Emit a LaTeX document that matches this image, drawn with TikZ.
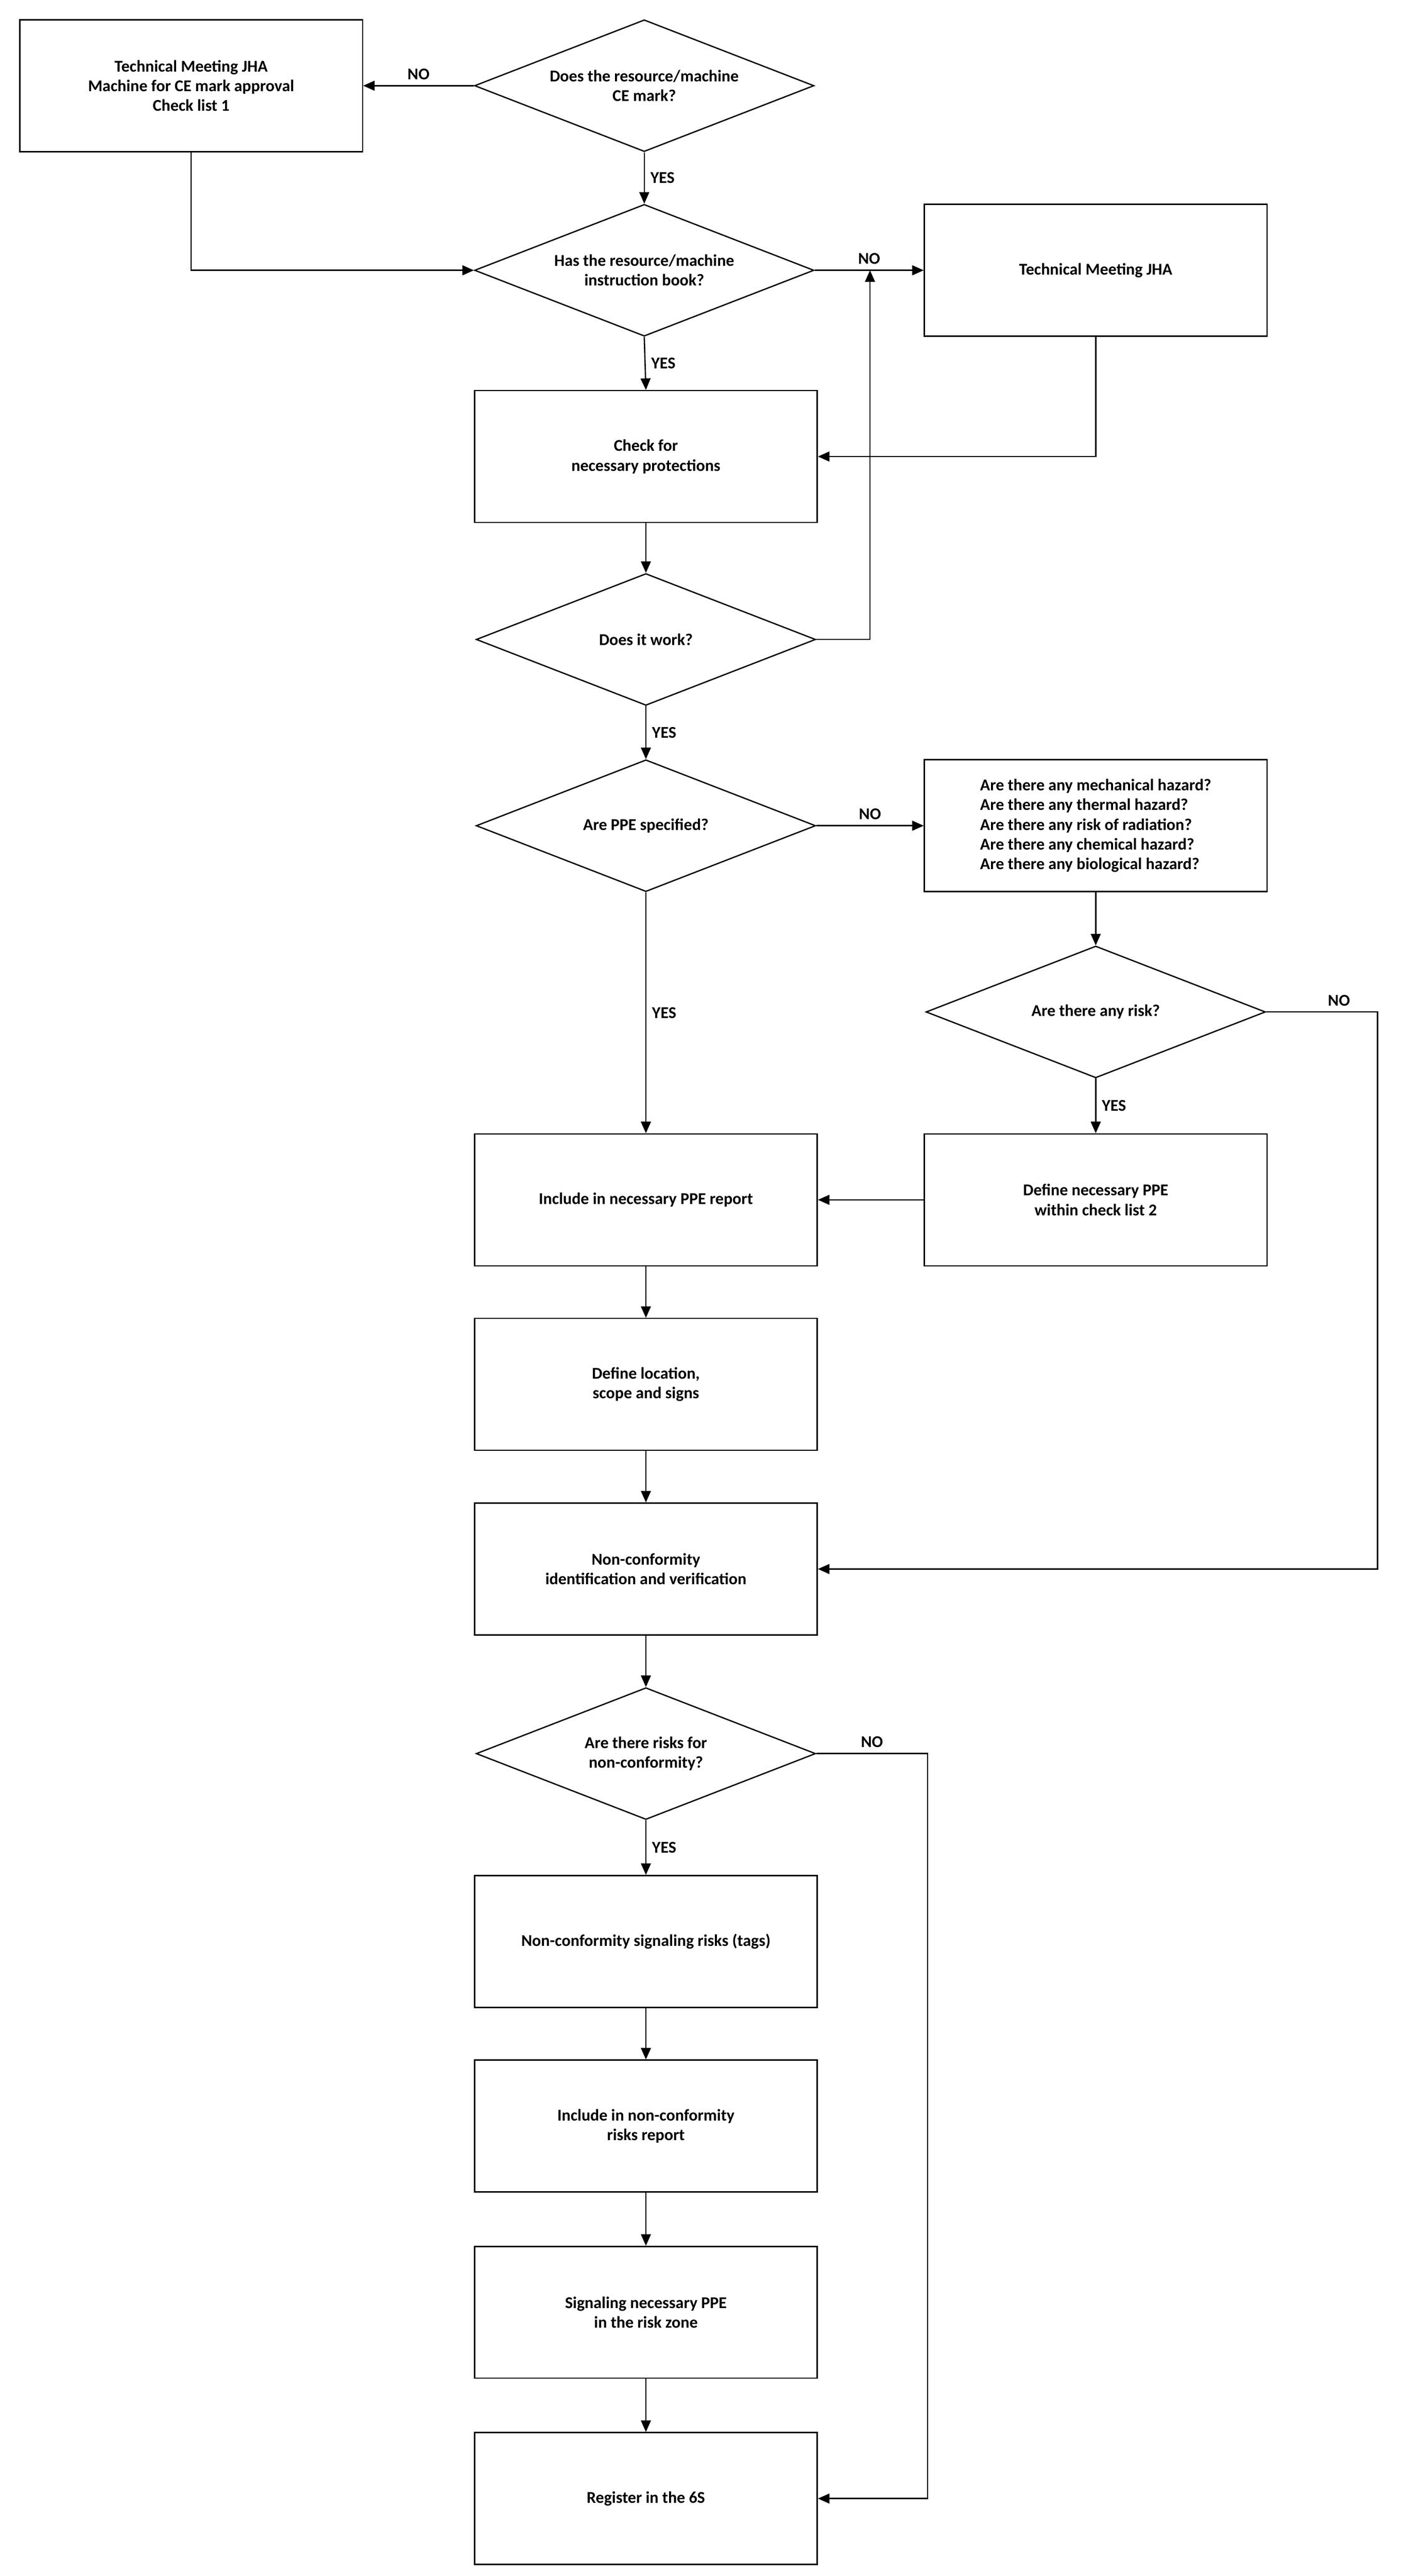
\documentclass[tikz,border=0pt]{standalone}
\usepackage{fontspec}
\setmainfont{Carlito}
\usetikzlibrary{shapes.geometric,arrows.meta}
\begin{document}
\begin{tikzpicture}[x=1pt,y=-1pt,
  font=\bfseries\fontsize{10}{12}\selectfont,
  box/.style={draw,line width=0.8pt,minimum width=208pt,minimum height=80pt,align=center,inner sep=1pt},
  dia/.style={draw,line width=0.8pt,diamond,aspect=2.6,minimum width=206pt,minimum height=80pt,align=center,inner sep=0pt},
  arr/.style={-{Triangle[length=7pt,width=6pt]},line width=0.8pt},
  lbl/.style={font=\bfseries\fontsize{10}{12}\selectfont}]
\useasboundingbox (0,0) rectangle (850,1563);
\node[box] (t1) at (116,52) {Technical Meeting JHA\\Machine for CE mark approval\\Check list 1};
\node[dia] (d1) at (391,52) {Does the resource/machine\\CE mark?};
\node[dia] (d2) at (391,164) {Has the resource/machine\\instruction book?};
\node[box] (tm) at (665,164) {Technical Meeting JHA};
\node[box] (ch) at (392,277) {Check for\\necessary protections};
\node[dia] (d3) at (392,388) {Does it work?};
\node[dia] (d4) at (392,501) {Are PPE specified?};
\node[box,align=left] (hz) at (665,501) {Are there any mechanical hazard?\\Are there any thermal hazard?\\Are there any risk of radiation?\\Are there any chemical hazard?\\Are there any biological hazard?};
\node[dia] (d5) at (665,614) {Are there any risk?};
\node[box] (dp) at (665,728) {Define necessary PPE\\within check list 2};
\node[box] (ip) at (392,728) {Include in necessary PPE report};
\node[box] (dl) at (392,840) {Define location,\\scope and signs};
\node[box] (nc) at (392,952) {Non-conformity\\identification and verification};
\node[dia] (d6) at (392,1064) {Are there risks for\\non-conformity?};
\node[box] (ns) at (392,1178) {Non-conformity signaling risks (tags)};
\node[box] (ir) at (392,1290) {Include in non-conformity\\risks report};
\node[box] (sp) at (392,1403) {Signaling necessary PPE\\in the risk zone};
\node[box] (rg) at (392,1516) {Register in the 6S};
\coordinate (m1) at (528,164);
\draw[arr] (d1.west) -- (t1.east) node[midway,above,lbl] {NO};
\draw[arr] (d1.south) -- (d2.north) node[midway,right,lbl] {YES};
\draw[arr] (t1.south) |- (d2.west);
\draw[arr] (d2.east) -- (tm.west) node[pos=0.5,above,lbl] {NO};
\draw[arr] (tm.south) |- (ch.east);
\draw[arr] (d2.south) -- (ch.north) node[midway,right,lbl] {YES};
\draw[arr] (ch.south) -- (d3.north);
\draw[arr] (d3.east) -| (m1);
\draw[arr] (d3.south) -- (d4.north) node[midway,right,lbl] {YES};
\draw[arr] (d4.east) -- (hz.west) node[midway,above,lbl] {NO};
\draw[arr] (d4.south) -- (ip.north) node[midway,right,lbl] {YES};
\draw[arr] (hz.south) -- (d5.north);
\draw[arr] (d5.south) -- (dp.north) node[midway,right,lbl] {YES};
\draw[arr] (d5.east) -- (836,614) node[midway,above right,lbl] {NO} |- (nc.east);
\draw[arr] (dp.west) -- (ip.east);
\draw[arr] (ip.south) -- (dl.north);
\draw[arr] (dl.south) -- (nc.north);
\draw[arr] (nc.south) -- (d6.north);
\draw[arr] (d6.south) -- (ns.north) node[midway,right,lbl] {YES};
\draw[arr] (d6.east) -- (563,1064) node[pos=0.5,above,lbl] {NO} |- (rg.east);
\draw[arr] (ns.south) -- (ir.north);
\draw[arr] (ir.south) -- (sp.north);
\draw[arr] (sp.south) -- (rg.north);
\end{tikzpicture}
\end{document}
